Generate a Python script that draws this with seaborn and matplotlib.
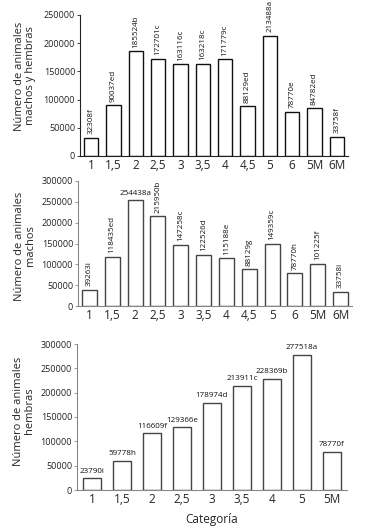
import matplotlib
matplotlib.use("Agg")
import matplotlib.pyplot as plt
import numpy as np
import pandas as pd
import seaborn as sns

W, H = 367, 530

# panel 1: machos y hembras
CATS_ALL = ["1", "1,5", "2", "2,5", "3", "3,5", "4", "4,5", "5", "6", "5M", "6M"]
TOTAL = [32308, 90037, 185524, 172701, 163116, 163218, 171779, 88129, 213488, 78770, 84782, 33758]
TOTAL_LBL = ["32308f", "90037ed", "185524b", "172701c", "163116c", "163218c",
             "171779c", "88129ed", "213488a", "78770e", "84782ed", "33758f"]

# panel 2: machos
MACHOS = [39263, 118435, 254438, 215950, 147258, 122526, 115188, 88129, 149359, 78770, 101225, 33758]
MACHOS_LBL = ["39263i", "118435ed", "254438a", "215950b", "147258c", "122526d",
              "115188e", "88129g", "149359c", "78770h", "101225f", "33758i"]

# panel 3: hembras
CATS_H = ["1", "1,5", "2", "2,5", "3", "3,5", "4", "5", "5M"]
HEMBRAS = [23790, 59778, 116609, 129366, 178974, 213911, 228369, 277518, 78770]
HEMBRAS_LBL = ["23790i", "59778h", "116609f", "129366e", "178974d", "213911c",
               "228369b", "277518a", "78770f"]

sns.set_theme(style="white")
plt.rcParams["font.family"] = ["Open Sans", "DejaVu Sans"]


def px_axes(fig, left, right, top, bottom):
    return fig.add_axes([left / W, 1 - bottom / H, (right - left) / W, (bottom - top) / H])


def panel(ax, cats, vals, labels, ymax, step, edge, spine, rotate, width):
    df = pd.DataFrame({"cat": cats, "val": vals})
    sns.barplot(data=df, x="cat", y="val", order=cats, color="white",
                edgecolor=edge, linewidth=1.0, width=width, ax=ax, saturation=1)
    n = len(cats)
    ax.set_xlim(-0.5, n - 0.5)
    ax.set_ylim(0, ymax)
    ticks = np.arange(0, ymax + 1, step)
    ax.set_yticks(ticks)
    ax.set_yticklabels([f"{int(v)}" for v in ticks], fontsize=6.5, color="#222222")
    ax.set_xticks(np.arange(n + 1) - 0.5, minor=True)
    ax.tick_params(axis="x", which="major", length=0, labelsize=8.5, pad=2)
    ax.tick_params(axis="x", which="minor", length=3, width=0.6, color=spine, direction="out")
    ax.tick_params(axis="y", length=2, width=0.6, color=spine, pad=1.5, left=True)
    ax.set_xlabel("")
    ax.set_ylabel("")
    for s in ["top", "right"]:
        ax.spines[s].set_visible(False)
    for s in ["left", "bottom"]:
        ax.spines[s].set_color(spine)
        ax.spines[s].set_linewidth(0.8)
    for i, (v, lab) in enumerate(zip(vals, labels)):
        rot = rotate[i] if isinstance(rotate, list) else rotate
        ax.annotate(lab, (i, v), xytext=(0, 2.5), textcoords="offset points",
                    ha="center", va="bottom", rotation=90 if rot else 0,
                    fontsize=5.8, color="#111111", annotation_clip=False, clip_on=False)


fig = plt.figure(figsize=(W / 100, H / 100), dpi=100)

ax1 = px_axes(fig, 80, 348, 15, 156)
panel(ax1, CATS_ALL, TOTAL, TOTAL_LBL, 250000, 50000, "#111111", "#222222", True, 0.65)
fig.text(25 / W, 1 - 76 / H, "Número de animales\nmachos y hembras", rotation=90,
         ha="center", va="center", fontsize=8, linespacing=1.05)

ax2 = px_axes(fig, 78, 352, 181, 306)
rot2 = [True] * 12
rot2[2] = False
panel(ax2, CATS_ALL, MACHOS, MACHOS_LBL, 300000, 50000, "#444444", "#888888", rot2, 0.65)
fig.text(25 / W, 1 - 246 / H, "Número de animales\nmachos", rotation=90,
         ha="center", va="center", fontsize=8, linespacing=1.05)

ax3 = px_axes(fig, 77, 347, 344, 490)
panel(ax3, CATS_H, HEMBRAS, HEMBRAS_LBL, 300000, 50000, "#444444", "#888888", False, 0.6)
fig.text(24 / W, 1 - 411 / H, "Número de animales\nhembras", rotation=90,
         ha="center", va="center", fontsize=8, linespacing=1.05)
fig.text(212 / W, 1 - 519 / H, "Categoría", ha="center", va="center", fontsize=8.5)

fig.savefig("out.png", dpi=100)
